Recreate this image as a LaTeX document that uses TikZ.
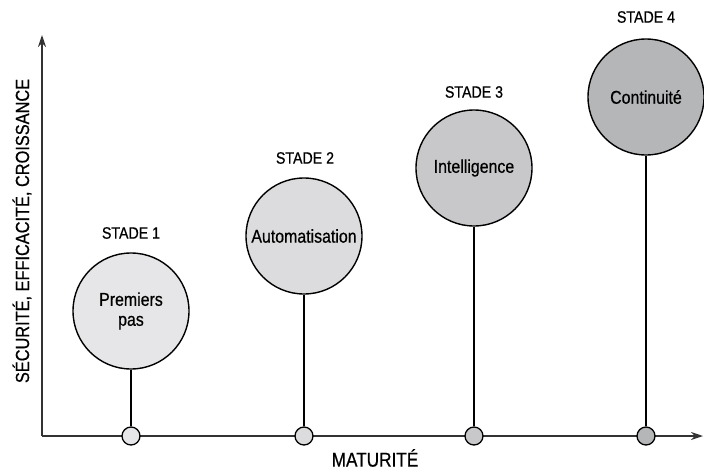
\documentclass[tikz,border=0pt]{standalone}
\usepackage{fontspec}
\setmainfont{Liberation Sans}[FakeStretch=0.86,FakeBold=0.6]
\usetikzlibrary{arrows.meta}
\definecolor{axisc}{HTML}{333333}
\definecolor{fA}{HTML}{E6E6E8}
\definecolor{fB}{HTML}{DCDCDE}
\definecolor{fC}{HTML}{C8C8CA}
\definecolor{fD}{HTML}{B4B6B8}
\begin{document}
\begin{tikzpicture}[x=1pt,y=-1pt,
  bigc/.style={circle,draw=black,line width=1.4pt,minimum size=116pt,inner sep=0pt,align=center,font=\fontsize{18.5}{20}\selectfont},
  smallc/.style={circle,draw=black,line width=1.3pt,minimum size=18pt,inner sep=0pt},
  stlabel/.style={font=\fontsize{16.5}{18}\selectfont},
  axlabel/.style={font=\fontsize{20}{22}\selectfont,inner sep=0pt},
  ylabel/.style={font=\fontsize{19}{21}\selectfont,inner sep=0pt},
  stem/.style={draw=black,line width=1.4pt},
  axis/.style={draw=axisc,line width=1.3pt,-{Stealth[length=12pt,width=8pt]}}]
\useasboundingbox (0,0) rectangle (704,471);
\coordinate (O) at (42,436);
\coordinate (ytop) at (42,35);
\coordinate (xend) at (703,436);
\draw[axis] (O) -- (ytop);
\draw[axis] (O) -- (xend);
\node[axlabel] (xl) at (375,458) {MATURITÉ};
\node[ylabel,rotate=90] (yl) at (22,231) {SÉCURITÉ, EFFICACITÉ, CROISSANCE};
% stage 1
\node[bigc,fill=fA] (c1) at (131,311) {Premiers\\pas};
\node[smallc,fill=fA] (s1) at (131,436) {};
\node[stlabel] (l1) at (131,233) {STADE 1};
\draw[stem] (c1) -- (s1);
% stage 2
\node[bigc,fill=fB] (c2) at (304,236) {Automatisation};
\node[smallc,fill=fB] (s2) at (304,436) {};
\node[stlabel] (l2) at (305,158) {STADE 2};
\draw[stem] (c2) -- (s2);
% stage 3
\node[bigc,fill=fC] (c3) at (474,168) {Intelligence};
\node[smallc,fill=fC] (s3) at (474,436) {};
\node[stlabel] (l3) at (474,92) {STADE 3};
\draw[stem] (c3) -- (s3);
% stage 4
\node[bigc,fill=fD] (c4) at (646,97) {Continuité};
\node[smallc,fill=fD] (s4) at (646,436) {};
\node[stlabel] (l4) at (646,17) {STADE 4};
\draw[stem] (c4) -- (s4);
\end{tikzpicture}
\end{document}
